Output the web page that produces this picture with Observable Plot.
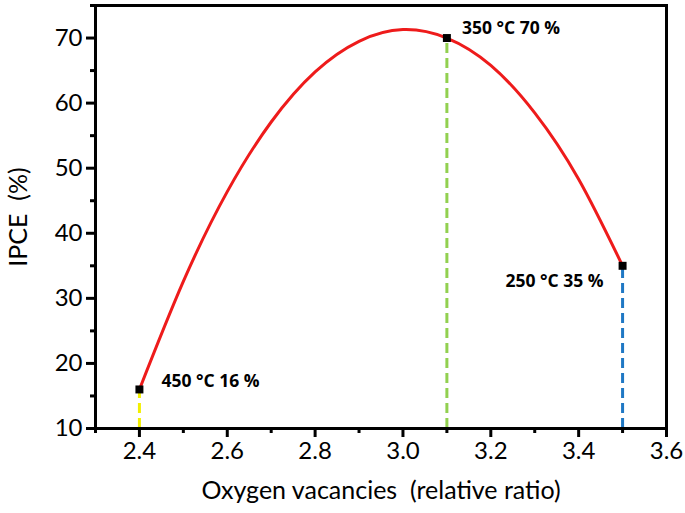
<!DOCTYPE html>
<html>
<head>
<meta charset="utf-8">
<script src="https://cdn.jsdelivr.net/npm/d3@7"></script>
<script src="https://cdn.jsdelivr.net/npm/@observablehq/plot@0.6"></script>
<style>
  html, body { margin: 0; padding: 0; background: #fff; }
  #chart { width: 685px; height: 513px; }
</style>
</head>
<body>
<div id="chart"></div>
<script>
// Curve
const curveX = [2.4, 2.5, 2.6, 2.7, 2.8, 2.9, 3.0, 3.1, 3.2, 3.3, 3.4, 3.5];
const curveY = [16, 32.6, 46.4, 57.1, 64.8, 69.5, 71.3, 70, 65.8, 58.5, 48.3, 35];

// Marked samples
const sampleX = [2.4, 3.1, 3.5];
const sampleY = [16, 70, 35];
const sampleTemp = [450, 350, 250];
const sampleColor = ["#f2ef00", "#92d050", "#1f78c4"];

// Ticks
const xTicks = [2.4, 2.6, 2.8, 3.0, 3.2, 3.4, 3.6];
const xMinor = [2.3, 2.5, 2.7, 2.9, 3.1, 3.3, 3.5];
const yTicks = [10, 20, 30, 40, 50, 60, 70];
const yMinor = [15, 25, 35, 45, 55, 65, 75];

const xLabel = "Oxygen vacancies  (relative ratio)";
const yLabel = "IPCE  (%)";

const curve = curveX.map((x, i) => ({x, y: curveY[i]}));
const samples = sampleX.map((x, i) => ({
  x, y: sampleY[i], color: sampleColor[i],
  label: `${sampleTemp[i]} °C ${sampleY[i]} %`
}));

const font = "Lato, 'Open Sans', sans-serif";
const bold = {fontSize: 17.5, fontWeight: "bold", fill: "#000", fontFamily: "'Open Sans', sans-serif"};

const chart = Plot.plot({
  width: 685,
  height: 513,
  marginLeft: 95,
  marginRight: 19,
  marginTop: 5,
  marginBottom: 85,
  style: {fontFamily: font, background: "#fff", color: "#000"},
  x: {domain: [2.3, 3.6]},
  y: {domain: [10, 75]},
  marks: [
    Plot.ruleX(samples, {x: "x", y1: 10, y2: "y", stroke: "color", strokeWidth: 3, strokeDasharray: "10,5"}),
    Plot.line(curve, {x: "x", y: "y", curve: "natural", stroke: "#ee1b1b", strokeWidth: 3}),
    Plot.dot(samples, {x: "x", y: "y", symbol: "square", r: 4.5, fill: "#000", stroke: null}),
    Plot.text([samples[0]], {x: "x", y: "y", text: "label", textAnchor: "start", dx: 22, dy: -8, ...bold}),
    Plot.text([samples[1]], {x: "x", y: "y", text: "label", textAnchor: "start", dx: 15, dy: -10, ...bold}),
    Plot.text([samples[2]], {x: "x", y: "y", text: "label", textAnchor: "end", dx: -19, dy: 16, ...bold}),
    Plot.axisX({ticks: xTicks, tickFormat: d3.format(".1f"), tickSize: 9, tickPadding: 4, strokeWidth: 3, fontSize: 24, label: null}),
    Plot.axisX({ticks: xMinor, tickSize: 5, strokeWidth: 3, text: null, label: null}),
    Plot.axisY({ticks: yTicks, tickSize: 9, tickPadding: 4, strokeWidth: 3, fontSize: 24, label: null}),
    Plot.axisY({ticks: yMinor, tickSize: 5, strokeWidth: 3, text: null, label: null}),
    Plot.axisY({ticks: [], label: yLabel, labelAnchor: "center", labelArrow: "none", labelOffset: 86, fontSize: 25}),
    Plot.text([xLabel], {frameAnchor: "bottom", dy: 70, text: d => d, fontSize: 25, fill: "#000"}),
    Plot.frame({stroke: "#000", strokeWidth: 3})
  ]
});
document.getElementById("chart").append(chart);
</script>
</body>
</html>
